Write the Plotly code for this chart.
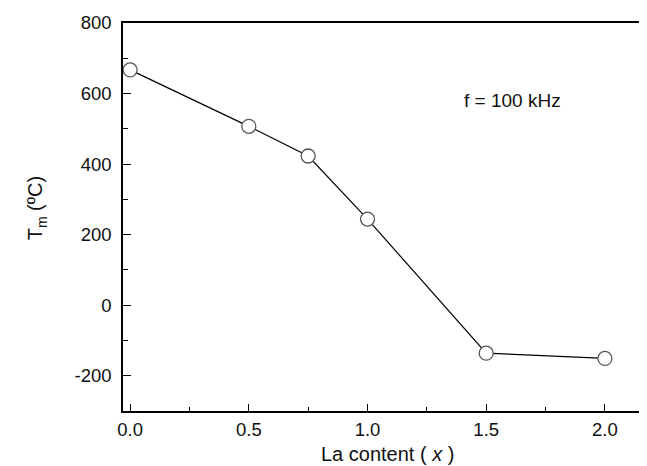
import plotly.graph_objects as go

la_content = [0.0, 0.5, 0.75, 1.0, 1.5, 2.0]
tm_values = [667, 507, 423, 244, -136, -151]
x_ticks = [0.0, 0.5, 1.0, 1.5, 2.0]
x_tick_labels = ["0.0", "0.5", "1.0", "1.5", "2.0"]
y_ticks = [-200, 0, 200, 400, 600, 800]
y_tick_labels = ["-200", "0", "200", "400", "600", "800"]

W, H = 647, 466
l, r, t, b = 115, 3, 15, 63
pw, ph = W - l - r, H - t - b

fig = go.Figure()
fig.add_trace(go.Scatter(
    x=la_content, y=tm_values, mode="lines+markers",
    line=dict(color="black", width=1.2),
    marker=dict(symbol="circle", size=14, color="white",
                line=dict(color="#555555", width=1.3)),
    showlegend=False, cliponaxis=False,
))

font = dict(family="Liberation Sans, Arial, sans-serif", size=18.5, color="#111111")

fig.update_layout(
    width=W, height=H,
    margin=dict(l=l, r=r, t=t, b=b),
    paper_bgcolor="white", plot_bgcolor="white",
    font=font,
    xaxis=dict(
        range=[-0.03, 2.19], tickvals=x_ticks, ticktext=x_tick_labels,
        ticks="inside", ticklen=7, tickwidth=1.4, tickcolor="black",
        minor=dict(dtick=0.25, tick0=0, ticks="inside", ticklen=4, tickwidth=1.2, tickcolor="black"),
        showline=True, linecolor="black", linewidth=1.6, mirror=True,
        showgrid=False, zeroline=False, ticklabelstandoff=1,
    ),
    yaxis=dict(
        range=[-300, 800], tickvals=y_ticks, ticktext=y_tick_labels,
        ticks="inside", ticklen=8, tickwidth=1.4, tickcolor="black",
        minor=dict(dtick=100, tick0=0, ticks="inside", ticklen=5, tickwidth=1.2, tickcolor="black"),
        showline=True, linecolor="black", linewidth=1.6, mirror=True,
        showgrid=False, zeroline=False, ticklabelstandoff=6,
    ),
    annotations=[
        dict(text="f = 100 kHz", x=1.61, y=580, xref="x", yref="y",
             showarrow=False, font=dict(size=19)),
        dict(text="La content ( <i>x</i> )", x=(381 - l) / pw, y=(H - b - 446) / ph,
             xref="paper", yref="paper", yanchor="middle",
             showarrow=False, font=dict(size=20)),
        dict(text="T<sub>m</sub> (ºC)", x=(28 - l) / pw, y=(H - b - 200) / ph,
             xref="paper", yref="paper", xanchor="center", yanchor="middle",
             showarrow=False, textangle=-90, font=dict(size=20)),
    ],
)

fig.write_html("out.html")
